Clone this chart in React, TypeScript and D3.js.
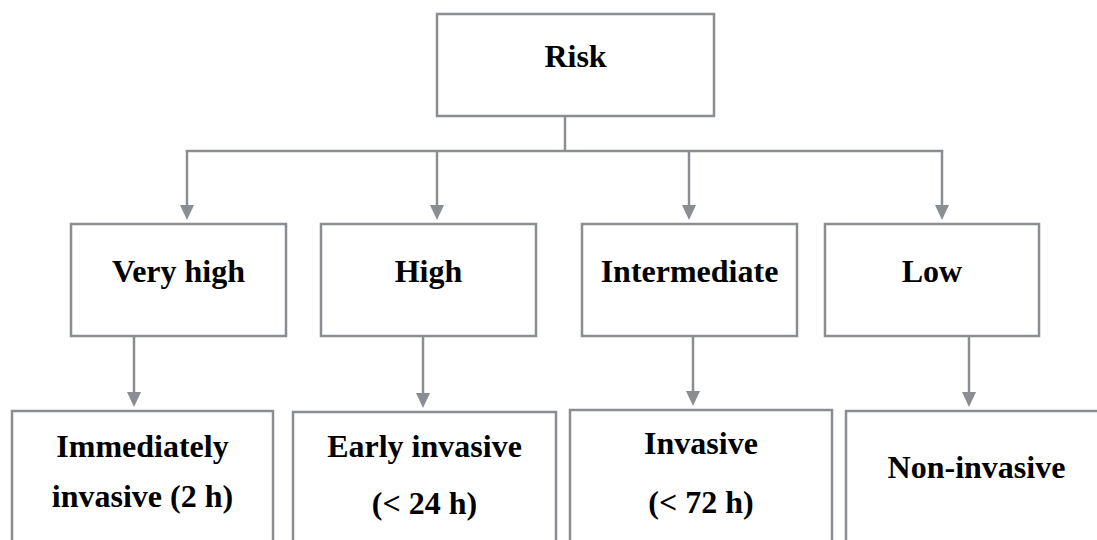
import React from "react";
import * as d3 from "d3";

// ---- data ----
const rootLabel = "Risk";
const riskLevels = ["Very high", "High", "Intermediate", "Low"];
const strategies = [
  ["Immediately", "invasive (2 h)"],
  ["Early invasive", "(< 24 h)"],
  ["Invasive", "(< 72 h)"],
  ["Non-invasive"],
];

// ---- layout ----
const W = 1097;
const H = 540;
const STROKE = "#8a8d91";
const SW = 2.5;
const FONT = '"Liberation Serif", "Times New Roman", Times, "DejaVu Serif", serif';
const FS = 32;

const rootBox = { x0: 437, x1: 714, y0: 14, y1: 116, baseline: 67 };
const busY = 151;
const topBoxes = [
  { x0: 71, x1: 286, arrowX: 187, stemX: 134 },
  { x0: 321, x1: 536, arrowX: 437, stemX: 423 },
  { x0: 582, x1: 797, arrowX: 689, stemX: 693 },
  { x0: 825, x1: 1039, arrowX: 942, stemX: 969 },
];
const topY0 = 224;
const topY1 = 336;
const topBaseline = 282;
const botBoxes = [
  { x0: 12, x1: 273, y0: 411, baselines: [457, 507] },
  { x0: 293, x1: 556, y0: 412, baselines: [457, 514] },
  { x0: 570, x1: 832, y0: 410, baselines: [454, 513] },
  { x0: 846, x1: 1107, y0: 411, baselines: [478] },
];
const AH = 15; // arrowhead height
const AW = 7; // arrowhead half width

const textStyle: React.CSSProperties = {
  fontFamily: FONT,
  fontWeight: 700,
  fontSize: FS,
};

function Arrow({ x, y0, y1 }: { x: number; y0: number; y1: number }) {
  const line = d3.line();
  const shaft = line([
    [x, y0],
    [x, y1 - AH + 1],
  ]) as string;
  const head = line([
    [x - AW, y1 - AH],
    [x + AW, y1 - AH],
    [x, y1],
  ]) as string;
  return (
    <g>
      <path d={shaft} stroke={STROKE} strokeWidth={SW} fill="none" />
      <path d={head + "Z"} fill={STROKE} stroke="none" />
    </g>
  );
}

export default function App() {
  const line = d3.line();
  const busPath = line([
    [topBoxes[0].arrowX, busY],
    [topBoxes[topBoxes.length - 1].arrowX, busY],
  ]) as string;
  const stemX = 565;
  const rootStem = line([
    [stemX, rootBox.y1],
    [stemX, busY],
  ]) as string;

  return (
    <svg
      width={W}
      height={H}
      style={{ position: "absolute", left: 0, top: 0, background: "#fff" }}
    >
      <rect x={0} y={0} width={W} height={H} fill="#fff" />
      {/* root */}
      <rect
        x={rootBox.x0}
        y={rootBox.y0}
        width={rootBox.x1 - rootBox.x0}
        height={rootBox.y1 - rootBox.y0}
        fill="#fff"
        stroke={STROKE}
        strokeWidth={SW}
      />
      <text x={(rootBox.x0 + rootBox.x1) / 2} y={rootBox.baseline} textAnchor="middle" fill="#000" style={textStyle}>
        {rootLabel}
      </text>
      <path d={rootStem} stroke={STROKE} strokeWidth={SW} fill="none" />
      <path d={busPath} stroke={STROKE} strokeWidth={SW} fill="none" strokeLinecap="square" />

      {riskLevels.map((lab, i) => {
        const b = topBoxes[i];
        return (
          <g key={lab}>
            <Arrow x={b.arrowX} y0={busY} y1={topY0 - 4} />
            <rect
              x={b.x0}
              y={topY0}
              width={b.x1 - b.x0}
              height={topY1 - topY0}
              fill="#fff"
              stroke={STROKE}
              strokeWidth={SW}
            />
            <text x={(b.x0 + b.x1) / 2} y={topBaseline} textAnchor="middle" fill="#000" style={textStyle}>
              {lab}
            </text>
            <Arrow x={b.stemX} y0={topY1} y1={botBoxes[i].y0 - 4} />
          </g>
        );
      })}

      {strategies.map((lines, i) => {
        const b = botBoxes[i];
        return (
          <g key={i}>
            <rect
              x={b.x0}
              y={b.y0}
              width={b.x1 - b.x0}
              height={H + 40 - b.y0}
              fill="#fff"
              stroke={STROKE}
              strokeWidth={SW}
            />
            {lines.map((t, j) => (
              <text key={j} x={(b.x0 + b.x1) / 2} y={b.baselines[j]} textAnchor="middle" fill="#000" style={textStyle}>
                {t}
              </text>
            ))}
          </g>
        );
      })}
    </svg>
  );
}
